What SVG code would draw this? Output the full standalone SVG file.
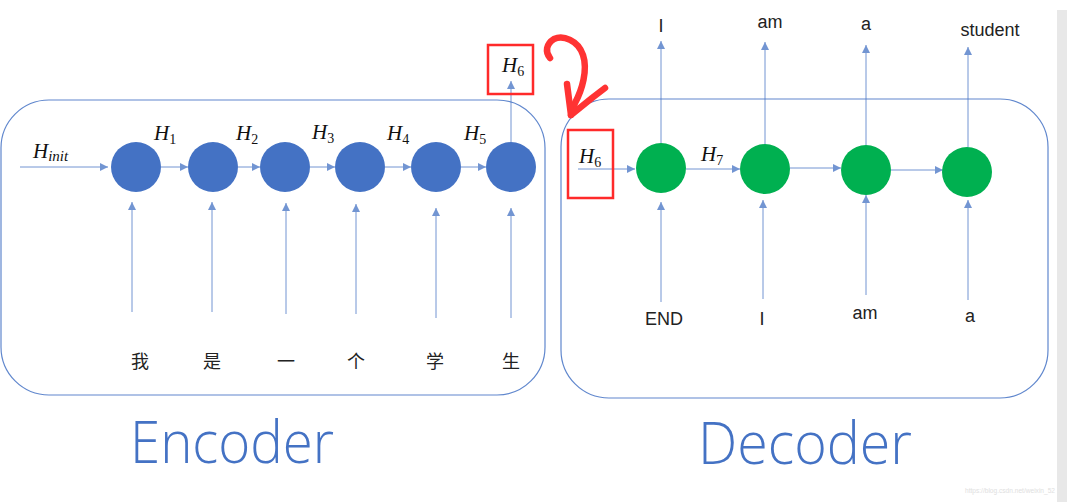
<svg xmlns="http://www.w3.org/2000/svg" width="1067" height="502" viewBox="0 0 1067 502">
<defs>
<marker id="ah" viewBox="0 0 10 10" refX="10" refY="5" markerWidth="8" markerHeight="8" markerUnits="userSpaceOnUse" orient="auto">
<path d="M0,0 L10,5 L0,10 z" fill="#4472C4"/>
</marker>
</defs>
<style>
.box{fill:none;stroke:#4472C4;stroke-width:1.2;opacity:.85}
.enc{fill:#4472C4}
.dec{fill:#00B050}
.ln{stroke:#4472C4;stroke-width:1;opacity:.75;fill:none}
.red{fill:none;stroke:#FF2A2A;stroke-width:2.5}
.m{font-family:"Liberation Serif",serif;font-style:italic;font-size:21px;fill:#111}
.s{font-style:normal;font-size:14px}
.si{font-size:15px}
.w{font-family:"Liberation Sans",Arial,sans-serif;font-size:18px;fill:#222}
.cn{font-family:"Noto Sans CJK SC","Noto Sans",sans-serif;font-size:18px;fill:#222}
.big{font-family:"Open Sans","Liberation Sans",sans-serif;font-weight:300;font-size:58px;fill:#4472C4}
</style>
<rect x="0" y="0" width="1067" height="502" fill="#fff"/>
<rect x="1057" y="10" width="10" height="492" fill="#E8E8E8"/>

<g id="encoder-box"><rect class="box" x="1" y="100" width="544" height="295" rx="48"/></g>
<g id="decoder-box"><rect class="box" x="561" y="99" width="487" height="299" rx="48"/></g>

<g id="connectors">
<line class="ln" x1="20" y1="167" x2="108" y2="167" marker-end="url(#ah)"/>
<line class="ln" x1="161" y1="167" x2="188" y2="167" marker-end="url(#ah)"/>
<line class="ln" x1="238" y1="167" x2="260" y2="167" marker-end="url(#ah)"/>
<line class="ln" x1="310" y1="167" x2="335" y2="167" marker-end="url(#ah)"/>
<line class="ln" x1="385" y1="167" x2="411" y2="167" marker-end="url(#ah)"/>
<line class="ln" x1="461" y1="167" x2="486" y2="167" marker-end="url(#ah)"/>
<line class="ln" x1="511" y1="142" x2="511" y2="81" marker-end="url(#ah)"/>
<line class="ln" x1="132" y1="312" x2="132" y2="202" marker-end="url(#ah)"/>
<line class="ln" x1="212" y1="312" x2="212" y2="202" marker-end="url(#ah)"/>
<line class="ln" x1="286" y1="314" x2="286" y2="203" marker-end="url(#ah)"/>
<line class="ln" x1="356" y1="314" x2="356" y2="204" marker-end="url(#ah)"/>
<line class="ln" x1="436" y1="318" x2="436" y2="208" marker-end="url(#ah)"/>
<line class="ln" x1="511" y1="318" x2="511" y2="208" marker-end="url(#ah)"/>

<line class="ln" x1="578" y1="169" x2="635" y2="169" marker-end="url(#ah)"/>
<line class="ln" x1="686" y1="169" x2="740" y2="169" marker-end="url(#ah)"/>
<line class="ln" x1="790" y1="168" x2="841" y2="168" marker-end="url(#ah)"/>
<line class="ln" x1="891" y1="170" x2="943" y2="170" marker-end="url(#ah)"/>
<line class="ln" x1="661" y1="143" x2="661" y2="41" marker-end="url(#ah)"/>
<line class="ln" x1="765" y1="144" x2="765" y2="42" marker-end="url(#ah)"/>
<line class="ln" x1="866" y1="145" x2="866" y2="45" marker-end="url(#ah)"/>
<line class="ln" x1="968" y1="147" x2="968" y2="47" marker-end="url(#ah)"/>
<line class="ln" x1="661" y1="302" x2="661" y2="202" marker-end="url(#ah)"/>
<line class="ln" x1="763" y1="299" x2="763" y2="200" marker-end="url(#ah)"/>
<line class="ln" x1="866" y1="295" x2="866" y2="195" marker-end="url(#ah)"/>
<line class="ln" x1="968" y1="300" x2="968" y2="200" marker-end="url(#ah)"/>
</g>

<g id="enc-nodes">
<circle id="e1" class="enc" cx="136" cy="167" r="25"/>
<circle id="e2" class="enc" cx="213" cy="167" r="25"/>
<circle id="e3" class="enc" cx="285" cy="167" r="25"/>
<circle id="e4" class="enc" cx="360" cy="167" r="25"/>
<circle id="e5" class="enc" cx="436" cy="167" r="25"/>
<circle id="e6" class="enc" cx="511" cy="167" r="25"/>
</g>
<g id="dec-nodes">
<circle id="d1" class="dec" cx="661" cy="168" r="25"/>
<circle id="d2" class="dec" cx="765" cy="169" r="25"/>
<circle id="d3" class="dec" cx="866" cy="170" r="25"/>
<circle id="d4" class="dec" cx="967" cy="172" r="25"/>
</g>

<g id="h-labels">
<text class="m" x="33" y="158">H<tspan class="si" dy="3">init</tspan></text>
<text class="m" x="154" y="140">H<tspan class="s" dy="4">1</tspan></text>
<text class="m" x="236" y="140">H<tspan class="s" dy="4">2</tspan></text>
<text class="m" x="312" y="139">H<tspan class="s" dy="4">3</tspan></text>
<text class="m" x="387" y="140">H<tspan class="s" dy="4">4</tspan></text>
<text class="m" x="464" y="140">H<tspan class="s" dy="4">5</tspan></text>
<text class="m" x="502" y="72">H<tspan class="s" dy="4">6</tspan></text>
<text class="m" x="579" y="163">H<tspan class="s" dy="4">6</tspan></text>
<text class="m" x="701" y="161">H<tspan class="s" dy="4">7</tspan></text>
</g>

<g id="red-marks">
<rect class="red" x="488" y="45" width="45" height="49"/>
<rect class="red" x="568" y="130" width="45" height="68"/>
<path d="M550,58 C545,52 546,44 554,39 C563,35 578,40 583,55 C588,70 582,90 575,103 L571,115" fill="none" stroke="#FF3333" stroke-width="6.5" stroke-linecap="round" stroke-linejoin="round"/>
<path d="M567,84 L571,115 L592,98 L605,88" fill="none" stroke="#FF3333" stroke-width="6.5" stroke-linecap="round" stroke-linejoin="round"/>
</g>

<g id="enc-inputs">
<text class="cn" x="140" y="368" text-anchor="middle">我</text>
<text class="cn" x="212" y="368" text-anchor="middle">是</text>
<text class="cn" x="286" y="368" text-anchor="middle">一</text>
<text class="cn" x="356" y="368" text-anchor="middle">个</text>
<text class="cn" x="435" y="368" text-anchor="middle">学</text>
<text class="cn" x="511" y="368" text-anchor="middle">生</text>
</g>
<g id="dec-inputs">
<text class="w" x="664" y="325" text-anchor="middle">END</text>
<text class="w" x="762" y="325" text-anchor="middle">I</text>
<text class="w" x="865" y="319" text-anchor="middle">am</text>
<text class="w" x="970" y="322" text-anchor="middle">a</text>
</g>
<g id="dec-outputs">
<text class="w" x="661" y="32" text-anchor="middle">I</text>
<text class="w" x="770" y="28" text-anchor="middle">am</text>
<text class="w" x="866" y="30" text-anchor="middle">a</text>
<text class="w" x="990" y="36" text-anchor="middle">student</text>
</g>

<g id="titles">
<text class="big" x="130" y="463" textLength="204" lengthAdjust="spacingAndGlyphs">Encoder</text>
<text class="big" x="698" y="464" textLength="214" lengthAdjust="spacingAndGlyphs">Decoder</text>
</g>
<text x="965" y="493" font-family="Liberation Sans,sans-serif" font-size="7" fill="#E0E0E0" textLength="90" lengthAdjust="spacingAndGlyphs">https://blog.csdn.net/weixin_52</text>
</svg>
